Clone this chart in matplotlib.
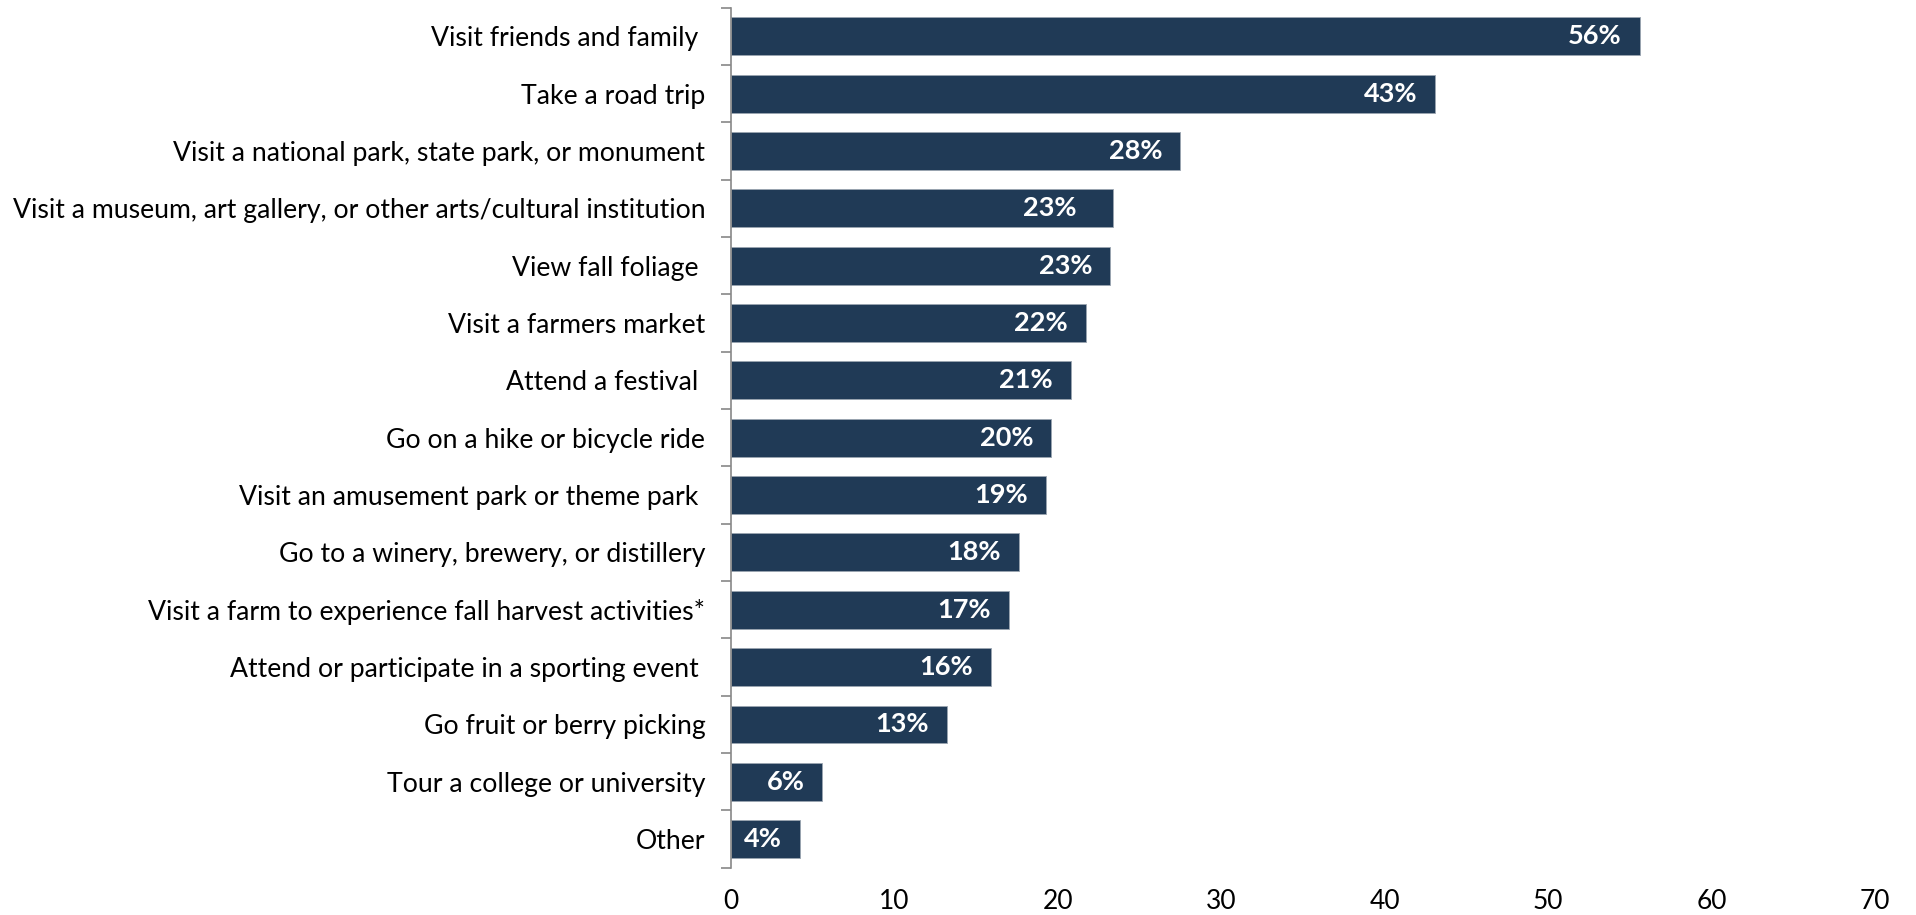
import matplotlib
matplotlib.use('Agg')
import matplotlib.pyplot as plt

# Share of respondents planning each fall activity (%)
activities = [
    "Visit friends and family ",
    "Take a road trip",
    "Visit a national park, state park, or monument",
    "Visit a museum, art gallery, or other arts/cultural institution",
    "View fall foliage ",
    "Visit a farmers market",
    "Attend a festival ",
    "Go on a hike or bicycle ride",
    "Visit an amusement park or theme park ",
    "Go to a winery, brewery, or distillery",
    "Visit a farm to experience fall harvest activities*",
    "Attend or participate in a sporting event ",
    "Go fruit or berry picking",
    "Tour a college or university",
    "Other",
]
shares = [55.6, 43.1, 27.5, 23.4, 23.2, 21.7, 20.8, 19.6, 19.3, 17.6, 17.0, 15.9, 13.2, 5.6, 4.2]
x_ticks = [0, 10, 20, 30, 40, 50, 60, 70]

BAR_COLOR = '#203a56'
plt.rcParams['font.family'] = ['Lato', 'DejaVu Sans']

fig = plt.figure(figsize=(19.16, 9.15), dpi=100)
ax = fig.add_axes([0.3815, 0.0516, 0.9786 - 0.3815, 0.9916 - 0.0516])

pos = list(range(len(activities)))
bars = ax.barh(pos, shares, height=0.66, color=BAR_COLOR,
               edgecolor='#9aa5b1', linewidth=0.6)

# value labels inside the bar ends (one label sits a bit further in)
nudge = {3: 19}
for i, (bar, v) in enumerate(zip(bars, shares)):
    off = -13 - nudge.get(i, 0) * 0.72
    ax.annotate(f'{round(v)}%', (v, i), xytext=(off, 0), textcoords='offset points',
                ha='right', va='center', color='white', fontsize=19.5,
                fontweight='bold')

ax.set_xlim(0, 70)
ax.set_ylim(len(activities) - 0.5, -0.5)

# category boundaries get the tick marks, names sit at bar centres
ax.set_yticks([p - 0.5 for p in pos] + [len(pos) - 0.5])
ax.set_yticklabels([])
ax.set_yticks(pos, minor=True)
ax.set_yticklabels(activities, minor=True, fontsize=19.2)
ax.tick_params(axis='y', which='major', length=7, width=1.2, color='#888888')
ax.tick_params(axis='y', which='minor', length=0, pad=18.5)

ax.set_xticks(x_ticks)
ax.set_xticklabels([str(t) for t in x_ticks], fontsize=19)
ax.tick_params(axis='x', length=0, pad=15)

for side in ['top', 'right', 'bottom']:
    ax.spines[side].set_visible(False)
ax.spines['left'].set_color('#888888')
ax.spines['left'].set_linewidth(1.2)

fig.savefig('out.png', dpi=100, facecolor='white')
